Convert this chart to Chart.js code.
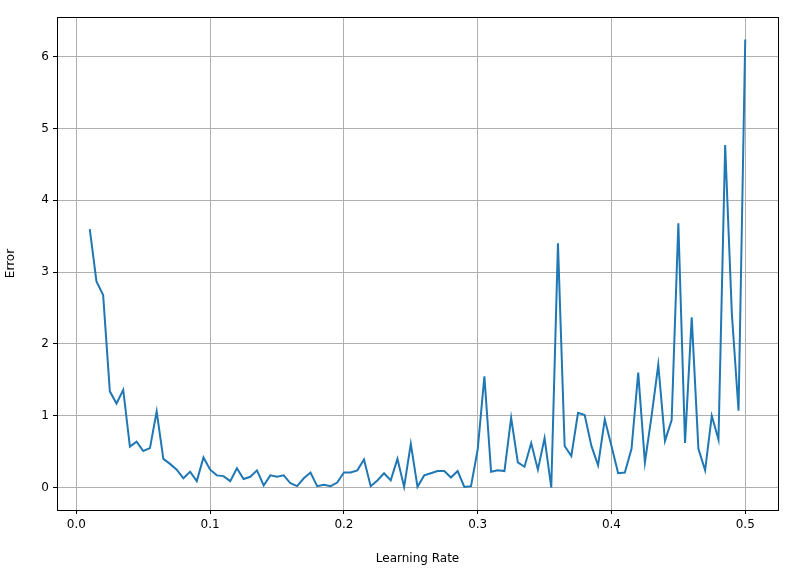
<!DOCTYPE html>
<html><head><meta charset="utf-8">
<script src="https://cdn.jsdelivr.net/npm/chart.js@4"></script>
<style>html,body{margin:0;padding:0;background:#fff}#w{width:800px;height:570px}</style>
</head><body><div id="w"><canvas id="c"></canvas></div>
<script>
const xStart = 0.01, xStep = 0.005;
const errors = [3.60,2.87,2.68,1.34,1.17,1.36,0.57,0.64,0.51,0.55,1.06,0.40,0.33,0.25,0.13,0.22,0.09,0.42,0.25,0.17,
0.16,0.09,0.27,0.12,0.15,0.24,0.03,0.17,0.15,0.17,0.06,0.02,0.13,0.21,0.02,0.04,0.02,0.07,0.21,0.21,
0.24,0.39,0.02,0.10,0.20,0.10,0.40,0.01,0.61,0.01,0.17,0.20,0.23,0.23,0.14,0.23,0.01,0.02,0.53,1.55,
0.22,0.24,0.23,0.97,0.35,0.29,0.62,0.25,0.69,0.00,3.40,0.58,0.44,1.04,1.01,0.58,0.31,0.95,0.58,0.20,
0.21,0.54,1.60,0.35,1.00,1.71,0.65,0.94,3.68,0.62,2.37,0.54,0.24,1.00,0.67,4.77,2.42,1.07,6.24];
const rates = errors.map((_, i) => +(xStart + i * xStep).toFixed(3));
const points = rates.map((r, i) => ({x: r, y: errors[i]}));
const font = {family: "DejaVu Sans", size: 12};
const frame = {id:'frame', afterDraw(ch){const a=ch.chartArea,c=ch.ctx;c.save();c.strokeStyle='#000';c.lineWidth=1;c.strokeRect(a.left+0.5,a.top+0.5,a.right-a.left,a.bottom-a.top);c.restore();}};
new Chart(document.getElementById('c'), {
  type: 'line',
  data: {datasets: [{data: points, borderColor: '#1f77b4', borderWidth: 2, pointRadius: 0, tension: 0, fill: false}]},
  options: {
    responsive: true, maintainAspectRatio: false, animation: false,
    layout: {padding: {top: 17, right: 22, left: 0, bottom: 0}},
    plugins: {legend: {display: false}, tooltip: {enabled: false}},
    scales: {
      x: {type: 'linear', min: -0.0145, max: 0.5245,
        afterFit(s){s.height = 60;},
        afterBuildTicks(s){s.ticks=[0,0.1,0.2,0.3,0.4,0.5].map(v=>({value:v}));},
        ticks: {color: '#000', font, callback: v => v.toFixed(1), maxRotation: 0, padding: 4},
        grid: {color: '#b0b0b0', tickColor: '#000', tickLength: 4},
        border: {color: '#000'},
        title: {display: true, text: 'Learning Rate', color: '#000', font, padding: {top: 2}}},
      y: {min: -0.312, max: 6.552,
        afterFit(s){s.width = 57;},
        afterBuildTicks(s){s.ticks=[0,1,2,3,4,5,6].map(v=>({value:v}));},
        ticks: {color: '#000', font, padding: 4},
        grid: {color: '#b0b0b0', tickColor: '#000', tickLength: 4},
        border: {color: '#000'},
        title: {display: true, text: 'Error', color: '#000', font, padding: {bottom: 2}}}
    }
  },
  plugins: [frame]
});
</script></body></html>
